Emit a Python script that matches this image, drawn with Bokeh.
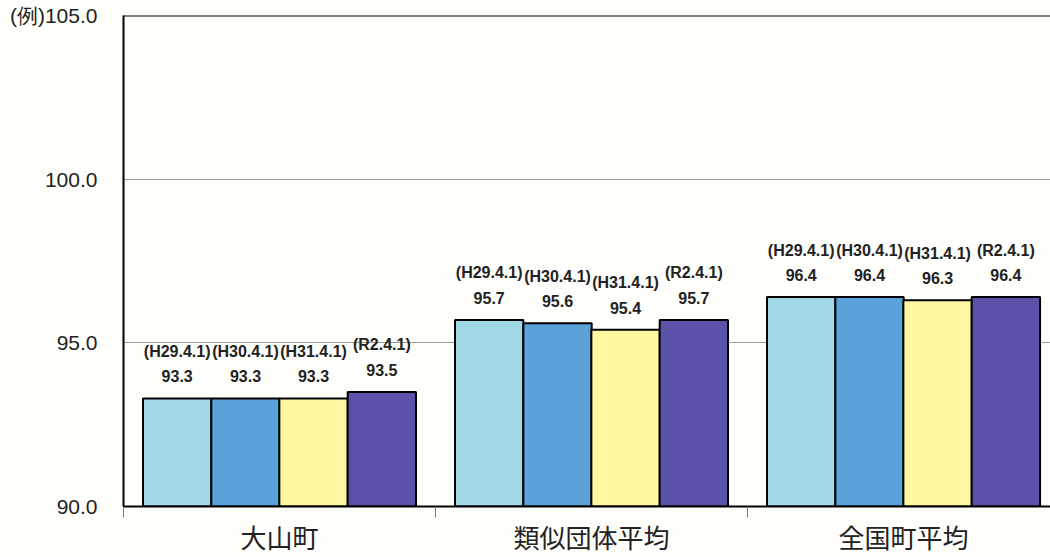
from bokeh.plotting import figure
from bokeh.models import Range1d, FixedTicker, Span, ColumnDataSource
from bokeh.core.properties import value
from bokeh.embed import file_html
from bokeh.resources import INLINE

# ---- data ----
categories = ["大山町", "類似団体平均", "全国町平均"]
dates = ["(H29.4.1)", "(H30.4.1)", "(H31.4.1)", "(R2.4.1)"]
v_h29 = [93.3, 95.7, 96.4]
v_h30 = [93.3, 95.6, 96.4]
v_h31 = [93.3, 95.4, 96.3]
v_r2 = [93.5, 95.7, 96.4]
series = [v_h29, v_h30, v_h31, v_r2]
colors = ["#A0D8E8", "#5CA2DA", "#FFF8A0", "#5A52A8"]
y_ticks = [90, 95, 100, 105]
y_tick_labels = ["90.0", "95.0", "100.0", "(例)105.0"]

BG = "#FEFEFA"
offsets = [-0.328, -0.109, 0.109, 0.328]
bar_w = 0.219

p = figure(width=1050, height=557, output_backend="svg", toolbar_location=None,
           x_range=Range1d(0, 2.971), y_range=Range1d(90, 105),
           min_border_left=123, min_border_right=0, min_border_top=15, min_border_bottom=51)
p.background_fill_color = BG
p.border_fill_color = BG
p.outline_line_color = None

for j, vals in enumerate(series):
    xs = [i + 0.5 + offsets[j] for i in range(len(categories))]
    src = ColumnDataSource(dict(x=xs, top=vals,
                                vlab=[f"{v:.1f}" for v in vals],
                                dlab=[dates[j]] * len(vals)))
    p.vbar(x="x", top="top", bottom=90, width=bar_w, source=src,
           fill_color=colors[j], line_color="black", line_width=2)
    p.text(x="x", y="top", text="vlab", source=src, y_offset=-22,
           text_align="center", text_baseline="middle",
           text_font=value("Liberation Sans"), text_font_style="bold",
           text_font_size="16px", text_color="#222222")
    p.text(x="x", y="top", text="dlab", source=src, y_offset=-47,
           text_align="center", text_baseline="middle",
           text_font=value("Liberation Sans"), text_font_style="bold",
           text_font_size="16px", text_color="#222222")

# top line
p.add_layout(Span(location=105, dimension="width", line_color="black", line_width=2))

# grid
p.xgrid.visible = False
p.ygrid.ticker = FixedTicker(ticks=[95, 100])
p.ygrid.grid_line_color = "#9A9A9A"
p.ygrid.grid_line_width = 1

# y axis
p.yaxis.ticker = FixedTicker(ticks=y_ticks)
p.yaxis.major_label_overrides = dict(zip(y_ticks, y_tick_labels))
p.yaxis.major_tick_out = 0
p.yaxis.major_tick_in = 0
p.yaxis.minor_tick_out = 0
p.yaxis.minor_tick_in = 0
p.yaxis.axis_line_color = "black"
p.yaxis.axis_line_width = 2
p.yaxis.major_label_standoff = 26
p.yaxis.major_label_text_font = "Liberation Sans"
p.yaxis.major_label_text_font_size = "21px"
p.yaxis.major_label_text_color = "#222222"

# x axis
p.xaxis.ticker = FixedTicker(ticks=[i + 0.5 for i in range(len(categories))],
                             minor_ticks=list(range(len(categories) + 1)))
p.xaxis.major_label_overrides = {i + 0.5: c for i, c in enumerate(categories)}
p.xaxis.major_tick_out = 0
p.xaxis.major_tick_in = 0
p.xaxis.minor_tick_out = 11
p.xaxis.minor_tick_in = 0
p.xaxis.minor_tick_line_color = "#777777"
p.xaxis.axis_line_color = "black"
p.xaxis.axis_line_width = 2
p.xaxis.major_label_standoff = 0
p.xaxis.major_label_text_font = "Noto Sans CJK JP"
p.xaxis.major_label_text_font_size = "26px"
p.xaxis.major_label_text_color = "#222222"

open("out.html", "w").write(file_html(p, INLINE))
